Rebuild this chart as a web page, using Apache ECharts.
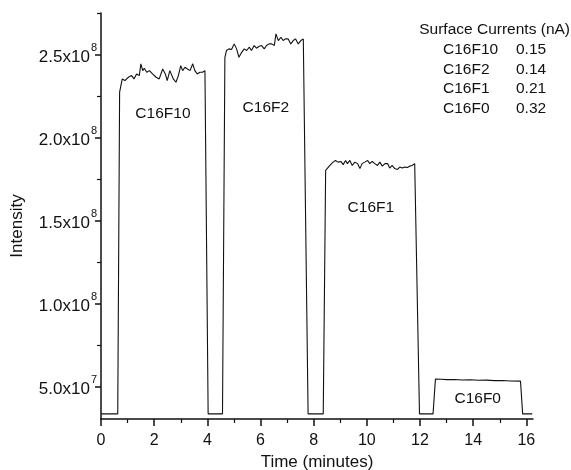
<!DOCTYPE html>
<html>
<head>
<meta charset="utf-8">
<script src="https://cdn.jsdelivr.net/npm/echarts@6.0.0/dist/echarts.min.js"></script>
<style>
  html, body { margin: 0; padding: 0; background: #fff; }
  #chart { width: 571px; height: 470px; }
</style>
</head>
<body>
<div id="chart"></div>
<script>
// trace (time in minutes, intensity in counts)
var time = [
  0, 0.63, 0.70, 0.80, 0.90, 1.03, 1.15, 1.24, 1.34, 1.44,
  1.50, 1.57, 1.63, 1.72, 1.82, 1.94, 2.07, 2.19, 2.32, 2.42,
  2.49, 2.59, 2.72, 2.82, 2.91, 3.00, 3.07, 3.16, 3.25, 3.35,
  3.45, 3.53, 3.62, 3.72, 3.82, 3.91, 3.97, 4.03,
  4.57, 4.66, 4.72, 4.81, 4.91, 5.01, 5.10, 5.19, 5.29, 5.39,
  5.48, 5.58, 5.66, 5.76, 5.85, 5.95, 6.04, 6.14, 6.23, 6.32,
  6.42, 6.52, 6.58, 6.67, 6.77, 6.85, 6.94, 7.04, 7.14, 7.23,
  7.32, 7.42, 7.52, 7.61, 7.67, 7.79,
  8.36, 8.45, 8.61, 8.73, 8.82, 8.92, 9.02, 9.11, 9.20, 9.27,
  9.36, 9.45, 9.55, 9.65, 9.74, 9.82, 9.92, 10.03, 10.11, 10.20,
  10.30, 10.40, 10.49, 10.58, 10.68, 10.78, 10.86, 10.95, 11.05, 11.15,
  11.24, 11.33, 11.43, 11.53, 11.62, 11.70, 11.80, 11.98,
  12.49, 12.58, 12.80, 13.00, 13.30, 13.60, 13.90, 14.20, 14.50, 14.80,
  15.10, 15.40, 15.78, 15.86, 16.22
];
var intensity = [
  3.36e7, 3.36e7, 2.273e8, 2.353e8, 2.343e8, 2.363e8, 2.373e8, 2.353e8, 2.383e8, 2.373e8,
  2.444e8, 2.403e8, 2.417e8, 2.393e8, 2.403e8, 2.383e8, 2.363e8, 2.353e8, 2.413e8, 2.383e8,
  2.343e8, 2.403e8, 2.353e8, 2.333e8, 2.373e8, 2.433e8, 2.403e8, 2.423e8, 2.413e8, 2.403e8,
  2.444e8, 2.403e8, 2.383e8, 2.393e8, 2.393e8, 2.403e8, 2.413e8, 3.36e7,
  3.36e7, 2.483e8, 2.524e8, 2.534e8, 2.530e8, 2.564e8, 2.534e8, 2.483e8, 2.513e8, 2.534e8,
  2.524e8, 2.544e8, 2.524e8, 2.554e8, 2.538e8, 2.550e8, 2.554e8, 2.534e8, 2.554e8, 2.564e8,
  2.564e8, 2.554e8, 2.624e8, 2.584e8, 2.604e8, 2.584e8, 2.594e8, 2.594e8, 2.564e8, 2.584e8,
  2.594e8, 2.564e8, 2.584e8, 2.594e8, 2.584e8, 3.36e7,
  3.36e7, 1.802e8, 1.832e8, 1.852e8, 1.862e8, 1.852e8, 1.856e8, 1.837e8, 1.862e8, 1.843e8,
  1.862e8, 1.832e8, 1.852e8, 1.843e8, 1.813e8, 1.843e8, 1.852e8, 1.862e8, 1.843e8, 1.856e8,
  1.843e8, 1.832e8, 1.852e8, 1.828e8, 1.843e8, 1.843e8, 1.816e8, 1.832e8, 1.813e8, 1.808e8,
  1.822e8, 1.816e8, 1.822e8, 1.820e8, 1.828e8, 1.832e8, 1.843e8, 3.36e7,
  3.36e7, 5.45e7, 5.44e7, 5.42e7, 5.43e7, 5.40e7, 5.41e7, 5.38e7, 5.39e7, 5.36e7,
  5.37e7, 5.34e7, 5.33e7, 3.36e7, 3.36e7
];

// plateau labels, placed in data space
var peakNames = ['C16F10', 'C16F2', 'C16F1', 'C16F0'];
var peakLabelTime = [2.33, 6.2, 10.15, 14.17];
var peakLabelValue = [2.145e8, 2.18e8, 1.575e8, 4.25e7];

// surface currents table (nA)
var currentNames = ['C16F10', 'C16F2', 'C16F1', 'C16F0'];
var currents = ['0.15', '0.14', '0.21', '0.32'];

// axis ticks
var xTicks = [0, 2, 4, 6, 8, 10, 12, 14, 16];
var xMinorTicks = [1, 3, 5, 7, 9, 11, 13, 15];
var yTicks = [5e7, 1e8, 1.5e8, 2e8, 2.5e8];
var yMantissa = ['5.0', '1.0', '1.5', '2.0', '2.5'];
var yExponent = ['7', '8', '8', '8', '8'];
var yMinorTicks = [7.5e7, 1.25e8, 1.75e8, 2.25e8, 2.75e8];

var FONT = '"Liberation Sans", Arial, sans-serif';
var INK = '#111';

var chart = echarts.init(document.getElementById('chart'));

var xMin = 0, xMax = 16.25, yMin = 3.05e7, yMax = 2.75e8;

var option = {
  backgroundColor: '#fff',
  animation: false,
  grid: { left: 101, right: 38, top: 13, bottom: 51, outerBoundsMode: 'none' },
  xAxis: [{
    type: 'value',
    min: xMin,
    max: xMax,
    position: 'bottom',
    name: 'Time (minutes)',
    nameLocation: 'middle',
    nameGap: 34,
    nameTextStyle: { color: INK, fontFamily: FONT, fontSize: 17 },
    axisLine: { lineStyle: { color: INK, width: 1.5 } },
    axisTick: { customValues: xTicks, length: 7, lineStyle: { color: INK, width: 1.5 } },
    axisLabel: { customValues: xTicks, color: INK, fontFamily: FONT, fontSize: 16, margin: 14 },
    splitLine: { show: false }
  }, {
    type: 'value',
    min: xMin,
    max: xMax,
    position: 'bottom',
    axisLine: { show: false },
    axisTick: { customValues: xMinorTicks, length: 4, lineStyle: { color: INK, width: 1.2 } },
    axisLabel: { show: false },
    splitLine: { show: false }
  }],
  yAxis: [{
    type: 'value',
    min: yMin,
    max: yMax,
    position: 'left',
    name: 'Intensity',
    nameLocation: 'middle',
    nameGap: 75,
    nameTextStyle: { color: INK, fontFamily: FONT, fontSize: 17, padding: [0, 20, 0, 0] },
    axisLine: { show: true, lineStyle: { color: INK, width: 1.5 } },
    axisTick: { show: true, customValues: yTicks, length: 6, lineStyle: { color: INK, width: 1.5 } },
    axisLabel: {
      customValues: yTicks,
      margin: 4,
      formatter: function (v) {
        var i = 0;
        for (var k = 0; k < yTicks.length; k++) {
          if (Math.abs(yTicks[k] - v) < 1) i = k;
        }
        return '{m|' + yMantissa[i] + 'x10}{e|' + yExponent[i] + '}';
      },
      rich: {
        m: { color: INK, fontFamily: FONT, fontSize: 17, padding: [6, 0, 0, 0] },
        e: { color: INK, fontFamily: FONT, fontSize: 11, padding: [0, 0, 14, 1] }
      }
    },
    splitLine: { show: false }
  }, {
    type: 'value',
    min: yMin,
    max: yMax,
    position: 'left',
    axisLine: { show: false },
    axisTick: { show: true, customValues: yMinorTicks, length: 4, lineStyle: { color: INK, width: 1.2 } },
    axisLabel: { show: false },
    splitLine: { show: false }
  }],
  series: [{
    type: 'line',
    xAxisIndex: 0,
    yAxisIndex: 0,
    data: time.map(function (t, i) { return [t, intensity[i]]; }),
    showSymbol: false,
    symbol: 'none',
    lineStyle: { color: INK, width: 1.1 },
    markPoint: {
      symbol: 'circle',
      symbolSize: 0,
      silent: true,
      label: {
        show: true,
        position: 'inside',
        color: INK,
        fontFamily: FONT,
        fontSize: 15.5,
        formatter: function (p) { return p.name; }
      },
      data: peakNames.map(function (n, i) {
        return { name: n, coord: [peakLabelTime[i], peakLabelValue[i]] };
      })
    }
  }],
  graphic: [{
    type: 'text',
    right: 1,
    top: 22,
    style: { text: 'Surface Currents (nA)', fill: INK, font: '15.5px ' + FONT }
  }, {
    type: 'text',
    left: 443,
    top: 40,
    style: { text: currentNames.join('\n'), fill: INK, font: '15.5px ' + FONT, lineHeight: 19.5 }
  }, {
    type: 'text',
    left: 516,
    top: 40,
    style: { text: currents.join('\n'), fill: INK, font: '15.5px ' + FONT, lineHeight: 19.5 }
  }]
};

chart.setOption(option);
</script>
</body>
</html>
